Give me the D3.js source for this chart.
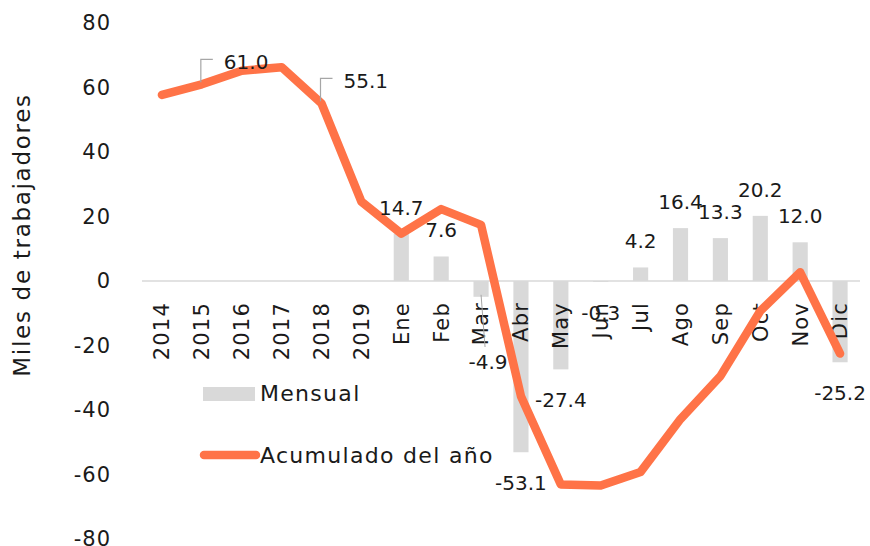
<!DOCTYPE html>
<html>
<head>
<meta charset="utf-8">
<script src="https://cdn.jsdelivr.net/npm/d3@7"></script>
<style>
  body { margin: 0; background: #fff; }
  text { font-family: "DejaVu Sans", sans-serif; fill: #1a1a1a; }
</style>
</head>
<body>
<div id="chart"></div>
<script>
// categories along the bottom
const categories = ["2014", "2015", "2016", "2017", "2018", "2019",
    "Ene", "Feb", "Mar", "Abr", "May", "Jun", "Jul", "Ago", "Sep", "Oct", "Nov", "Dic"];

// monthly bars (no bars for the yearly points)
const mensual = [null, null, null, null, null, null,
    14.7, 7.6, -4.9, -53.1, -27.4, -0.3, 4.2, 16.4, 13.3, 20.2, 12.0, -25.2];

// accumulated line
const acumulado = [57.7, 61.0, 65.2, 66.3, 55.1, 24.6,
    14.7, 22.3, 17.4, -35.7, -63.1, -63.4, -59.2, -42.8, -29.5, -9.3, 2.7, -22.5];

// which line points get a label
const lineLabels = ["2015", "2018"];

const yTicks = [-80, -60, -40, -20, 0, 20, 40, 60, 80];

const width = 870, height = 546;

// plain hyphen for negatives, like the original
const fmt = v => d3.format(".1f")(v).replace("\u2212", "-");

const svg = d3.select("#chart")
    .append("svg")
    .attr("width", width)
    .attr("height", height);

// scales
const x = d3.scaleBand()
    .domain(categories)
    .range([142, 860])
    .padding(0);

const y = d3.scaleLinear()
    .domain([-80, 80])
    .range([539, 23]);

const barW = x.bandwidth() * 0.38;
const cx = function(c) { return x(c) + x.bandwidth() / 2; };

// y axis labels
svg.append("g")
    .attr("transform", "translate(111,0)")
    .call(d3.axisLeft(y).tickValues(yTicks).tickSize(0).tickPadding(0).tickFormat(d => String(d)))
    .call(g => g.select(".domain").remove())
    .selectAll("text")
    .style("font-size", "21px")
    .style("letter-spacing", "1px")
    .style("font-family", "DejaVu Sans, sans-serif")
    .attr("fill", "#1a1a1a");

// y axis title
svg.append("text")
    .attr("transform", "translate(30,235)rotate(-90)")
    .attr("text-anchor", "middle")
    .style("font-size", "23px")
    .style("letter-spacing", "1.7px")
    .text("Miles de trabajadores");

// bars
const barData = categories.map((c, i) => ({cat: c, v: mensual[i]})).filter(d => d.v !== null);

svg.selectAll("rect.bar")
    .data(barData)
    .enter()
    .append("rect")
    .attr("class", "bar")
    .attr("x", d => cx(d.cat) - barW / 2)
    .attr("y", d => y(Math.max(0, d.v)))
    .attr("width", barW)
    .attr("height", d => Math.abs(y(d.v) - y(0)))
    .attr("fill", "#d9d9d9");

// zero line
svg.append("line")
    .attr("x1", 142).attr("x2", 860)
    .attr("y1", y(0)).attr("y2", y(0))
    .attr("stroke", "#d9d9d9")
    .attr("stroke-width", 1.5);

// x axis labels, rotated
svg.append("g")
    .attr("transform", "translate(0," + (y(0) + 21) + ")")
    .call(d3.axisBottom(x).tickSize(0).tickPadding(0))
    .call(g => g.select(".domain").remove())
    .selectAll("text")
    .attr("transform", "rotate(-90)")
    .attr("x", 0)
    .attr("y", 0)
    .attr("dy", "0.35em")
    .style("text-anchor", "end")
    .style("font-size", "21px")
    .style("letter-spacing", "1.2px")
    .style("font-family", "DejaVu Sans, sans-serif")
    .attr("fill", "#1a1a1a");

// accumulated line
const lineData = categories.map((c, i) => ({cat: c, v: acumulado[i]}));

svg.append("path")
    .datum(lineData)
    .attr("fill", "none")
    .attr("stroke", "#ff7347")
    .attr("stroke-width", 8.5)
    .attr("stroke-linejoin", "round")
    .attr("stroke-linecap", "round")
    .attr("d", d3.line().x(d => cx(d.cat)).y(d => y(d.v)));

// bar value labels
const mOffset = {Mar: [7, 65]};
svg.selectAll("text.barlab")
    .data(barData)
    .enter()
    .append("text")
    .attr("class", "barlab")
    .attr("text-anchor", "middle")
    .attr("x", d => cx(d.cat) + (mOffset[d.cat] ? mOffset[d.cat][0] : 0))
    .attr("y", d => {
        let base = d.v >= 0 ? y(d.v) - 26 : y(d.v) + 31;
        if (mOffset[d.cat]) base = y(0) + mOffset[d.cat][1] + 16;
        return base;
    })
    .attr("dy", "0.35em")
    .style("font-size", "20px")
    .text(d => fmt(d.v));

// leader for Mar label
const mar = barData.find(d => d.cat === "Mar");
svg.append("line")
    .attr("x1", cx("Mar")).attr("y1", y(mar.v) - 2)
    .attr("x2", cx("Mar") + 4).attr("y2", y(0) + 66)
    .attr("stroke", "#a6a6a6").attr("stroke-width", 1);

// line value labels with leaders
lineLabels.forEach(c => {
    const i = categories.indexOf(c);
    const px = cx(c), py = y(acumulado[i]);
    svg.append("path")
        .attr("d", "M" + (px - 1) + "," + (py - 2) + "V" + (py - 25) + "H" + (px + 11))
        .attr("fill", "none")
        .attr("stroke", "#a6a6a6")
        .attr("stroke-width", 1.2);
    svg.append("text")
        .attr("x", px + 22)
        .attr("y", py - 22)
        .attr("dy", "0.35em")
        .style("font-size", "20px")
        .text(fmt(acumulado[i]));
});

// legend
const legend = svg.append("g");
legend.append("rect")
    .attr("x", 203).attr("y", 387)
    .attr("width", 52).attr("height", 14)
    .attr("fill", "#d9d9d9");
legend.append("text")
    .attr("x", 260).attr("y", 393).attr("dy", "0.35em")
    .style("font-size", "22px")
    .style("letter-spacing", "1.3px")
    .text("Mensual");
legend.append("line")
    .attr("x1", 204).attr("x2", 256)
    .attr("y1", 455).attr("y2", 455)
    .attr("stroke", "#ff7347")
    .attr("stroke-width", 8.5)
    .attr("stroke-linecap", "round");
legend.append("text")
    .attr("x", 260).attr("y", 455).attr("dy", "0.35em")
    .style("font-size", "22px")
    .style("letter-spacing", "1.3px")
    .text("Acumulado del año");
</script>
</body>
</html>
